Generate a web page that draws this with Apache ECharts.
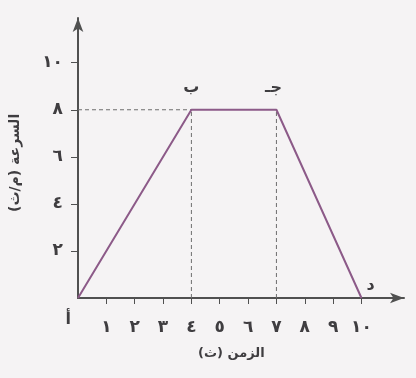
<!DOCTYPE html>
<html>
<head>
<meta charset="utf-8">
<script src="https://cdn.jsdelivr.net/npm/echarts@6/dist/echarts.min.js"></script>
<style>
  html, body { margin: 0; padding: 0; background: #f5f3f4; }
  #chart { width: 416px; height: 378px; }
</style>
</head>
<body>
<div id="chart"></div>
<script>
// Velocity-time graph: speeds up, holds steady, slows to rest
const timeValues = [0, 4, 7, 10];
const speedValues = [0, 8, 8, 0];
const pointNames = ['أ', 'ب', 'جـ', 'د'];
const xTickValues = [1, 2, 3, 4, 5, 6, 7, 8, 9, 10];
const yTickValues = [2, 4, 6, 8, 10];
const xTitle = 'الزمن (ث)';
const yTitle = 'السرعة (م/ث)';

const arabicDigits = '٠١٢٣٤٥٦٧٨٩';
const toArabic = v => String(v).replace(/\d/g, d => arabicDigits[+d]);

const ink = '#3f3d40';
const font = "'DejaVu Sans', sans-serif";

const labelPlacement = [
  { position: 'left', offset: [-2, 22] },
  { position: 'top', offset: [0, -9] },
  { position: 'top', offset: [-3, -9] },
  { position: 'right', offset: [0, -12] }
];

const chart = echarts.init(document.getElementById('chart'), null, { renderer: 'canvas' });

chart.setOption({
  backgroundColor: '#f5f3f4',
  animation: false,
  grid: { left: 78, top: 18, width: 326, height: 280 },
  xAxis: {
    type: 'value', min: 0, max: 11.5,
    axisLine: { show: true, symbol: ['none', 'arrow'], symbolSize: [8, 14], symbolOffset: [0, 0],
      lineStyle: { color: '#505050', width: 2 } },
    axisTick: { show: true, length: 6, customValues: xTickValues, lineStyle: { color: '#505050', width: 1 } },
    axisLabel: { customValues: xTickValues, formatter: v => toArabic(v), margin: 21,
      color: ink, fontSize: 17, fontWeight: 'bold', fontFamily: font },
    splitLine: { show: false }
  },
  yAxis: {
    type: 'value', min: 0, max: 11.9,
    axisLine: { show: true, symbol: ['none', 'arrow'], symbolSize: [8, 14], symbolOffset: [0, 0],
      lineStyle: { color: '#505050', width: 2 } },
    axisTick: { show: true, length: 7, customValues: yTickValues, lineStyle: { color: '#505050', width: 1 } },
    axisLabel: { customValues: yTickValues, formatter: v => toArabic(v), margin: 15,
      color: ink, fontSize: 17, fontWeight: 'bold', fontFamily: font },
    splitLine: { show: false }
  },
  graphic: [
    { type: 'text', left: 198, top: 347,
      style: { text: xTitle, fill: ink, font: "bold 13px 'DejaVu Sans', sans-serif" } },
    { type: 'text', x: 8, y: 212, rotation: Math.PI / 2,
      style: { text: yTitle, fill: ink, font: "bold 14px 'DejaVu Sans', sans-serif" } }
  ],
  series: [
    // guide lines from the steady-speed corners to the axes
    { type: 'line', data: [[0, 8], [4, 8]], symbol: 'none', silent: true,
      lineStyle: { color: '#6e6e6e', width: 1, type: [4, 3] } },
    { type: 'line', data: [[4, 0], [4, 8]], symbol: 'none', silent: true,
      lineStyle: { color: '#6e6e6e', width: 1, type: [4, 3] } },
    { type: 'line', data: [[7, 0], [7, 8]], symbol: 'none', silent: true,
      lineStyle: { color: '#6e6e6e', width: 1, type: [4, 3] } },
    {
      type: 'line',
      data: timeValues.map((t, i) => ({
        value: [t, speedValues[i]],
        label: Object.assign({ show: true, formatter: pointNames[i] }, labelPlacement[i])
      })),
      symbol: 'circle', symbolSize: 0.1,
      lineStyle: { color: '#8c5a88', width: 2 },
      itemStyle: { color: '#8c5a88' },
      label: { color: ink, fontSize: 16, fontWeight: 'bold', fontFamily: font },
      z: 5
    }
  ]
});
</script>
</body>
</html>
